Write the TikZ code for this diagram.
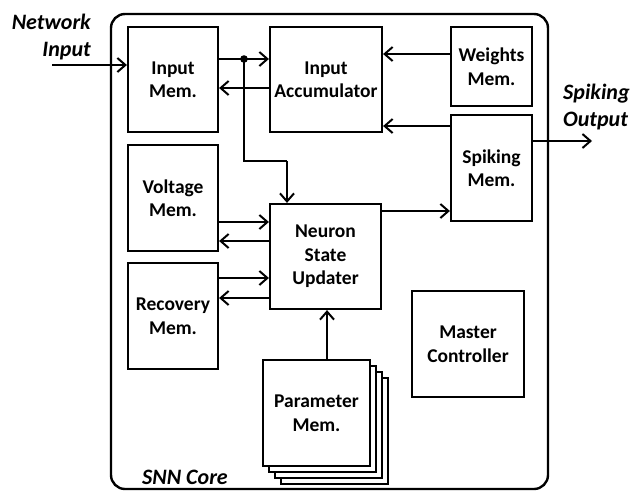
\documentclass[tikz,border=0pt]{standalone}
\usepackage{fontspec}
\setmainfont{Carlito}
\usetikzlibrary{arrows.meta}
\begin{document}
\begin{tikzpicture}[x=1pt,y=-1pt,
  blk/.style={draw,line width=2.2pt,fill=white,align=center,inner sep=0pt,
    font=\fontsize{19.5}{23.5}\selectfont\bfseries},
  arr/.style={line width=2pt,-{Straight Barb[length=8pt,width=14pt,line width=2pt]}},
  ln/.style={line width=2pt},
  lbl/.style={font=\fontsize{22}{27}\selectfont\bfseries\itshape,inner sep=0pt}]
\useasboundingbox (0,0) rectangle (632,491);
% outer core
\draw[line width=2.4pt,rounded corners=14pt] (111,14) rectangle (548,489);
\node[lbl,anchor=center] (core) at (185,477) {SNN Core};
% blocks
\node[blk,minimum width=90pt,minimum height=105pt] (inmem) at (173,79.5) {Input\\Mem.};
\node[blk,minimum width=90pt,minimum height=106pt] (volt) at (173,198) {Voltage\\Mem.};
\node[blk,minimum width=90pt,minimum height=106pt] (rec) at (173,316) {Recovery\\Mem.};
\node[blk,minimum width=112pt,minimum height=105pt] (acc) at (326,79.5) {Input\\Accumulator};
\node[blk,minimum width=81pt,minimum height=79pt] (wts) at (491.5,66.5) {Weights\\Mem.};
\node[blk,minimum width=81pt,minimum height=106pt] (spk) at (491.5,168) {Spiking\\Mem.};
\node[blk,minimum width=111pt,minimum height=105pt] (nsu) at (325.5,256.5) {Neuron\\State\\Updater};
\node[blk,minimum width=107pt,minimum height=106pt] (par3) at (334.5,431) {};
\node[blk,minimum width=107pt,minimum height=106pt] (par2) at (328.5,425) {};
\node[blk,minimum width=107pt,minimum height=106pt] (par1) at (322.5,419) {};
\node[blk,minimum width=107pt,minimum height=106pt] (par) at (316.5,413) {Parameter\\Mem.};
\node[blk,minimum width=112pt,minimum height=106pt] (mc) at (468,344) {Master\\Controller};
% labels outside
\node[lbl,align=right,anchor=north east] (netin) at (91,14) {Network\\Input};
\node[lbl,align=left,anchor=north west] (spkout) at (563,84) {Spiking\\Output};
% level coordinates
\coordinate (y65) at (0,65);
\coordinate (y59) at (0,59);
\coordinate (y88) at (0,88);
\coordinate (y54) at (0,54);
\coordinate (y126) at (0,126);
\coordinate (y141) at (0,141);
\coordinate (y211) at (0,211);
\coordinate (y222) at (0,222);
\coordinate (y241) at (0,241);
\coordinate (y278) at (0,278);
\coordinate (y298) at (0,298);
\coordinate (nin) at (52,65);
\coordinate (sout) at (592,141);
\coordinate (dot) at (244,59);
\coordinate (bend1) at (244,161);
\coordinate (bend2) at (287,161);
\coordinate (x287) at (287,0);
\coordinate (x327) at (327,0);
% connectors
\draw[arr] (nin) -- (inmem.west |- y65);
\draw[arr] (inmem.east |- y59) -- (acc.west |- y59);
\fill (dot) circle (3.8pt);
\draw[ln] (dot) -- (bend1) -- (bend2);
\draw[arr] (bend2) -- (nsu.north -| x287);
\draw[arr] (acc.west |- y88) -- (inmem.east |- y88);
\draw[arr] (wts.west |- y54) -- (acc.east |- y54);
\draw[arr] (spk.west |- y126) -- (acc.east |- y126);
\draw[arr] (spk.east |- y141) -- (sout);
\draw[arr] (nsu.east |- y211) -- (spk.west |- y211);
\draw[arr] (volt.east |- y222) -- (nsu.west |- y222);
\draw[arr] (nsu.west |- y241) -- (volt.east |- y241);
\draw[arr] (rec.east |- y278) -- (nsu.west |- y278);
\draw[arr] (nsu.west |- y298) -- (rec.east |- y298);
\draw[arr] (par.north -| x327) -- (nsu.south -| x327);
\end{tikzpicture}
\end{document}
